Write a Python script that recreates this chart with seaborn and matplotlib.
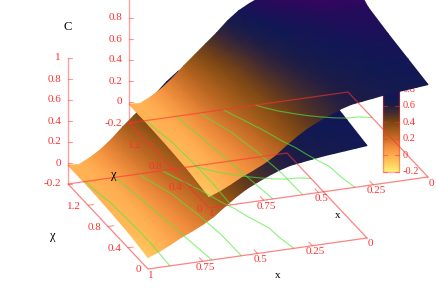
import numpy as np
import matplotlib
matplotlib.use('Agg')
import matplotlib.pyplot as plt
import seaborn as sns

# surface heights, one list per chi row
x_vals = [0, 0.05, 0.1, 0.15, 0.2, 0.25, 0.3, 0.35, 0.4, 0.45, 0.5, 0.55, 0.6, 0.65, 0.7, 0.75, 0.8, 0.85, 0.9, 0.95, 1]
chi_vals = [0, 0.4, 0.8, 1.2, 1.4, 1.6]
c_chi_00 = [0.68, 0.67, 0.66, 0.65, 0.64, 0.625, 0.61, 0.595, 0.565, 0.525, 0.48, 0.43, 0.365, 0.29, 0.21, 0.15, 0.10, 0.055, 0.0, -0.05, -0.09]
c_chi_04 = [0.72, 0.71, 0.70, 0.685, 0.67, 0.65, 0.63, 0.605, 0.57, 0.53, 0.48, 0.43, 0.37, 0.30, 0.235, 0.17, 0.11, 0.05, -0.01, -0.04, -0.05]
c_chi_08 = [0.76, 0.755, 0.745, 0.73, 0.715, 0.70, 0.68, 0.655, 0.62, 0.575, 0.52, 0.46, 0.39, 0.325, 0.26, 0.195, 0.13, 0.06, -0.01, -0.03, -0.03]
c_chi_12 = [0.81, 0.805, 0.805, 0.80, 0.785, 0.77, 0.75, 0.725, 0.695, 0.65, 0.59, 0.51, 0.43, 0.36, 0.29, 0.22, 0.15, 0.07, 0.0, -0.02, -0.02]
c_chi_14 = [0.88, 0.875, 0.87, 0.86, 0.85, 0.83, 0.81, 0.785, 0.75, 0.705, 0.65, 0.57, 0.48, 0.40, 0.32, 0.24, 0.16, 0.075, 0.01, -0.025, -0.02]
c_chi_16 = [0.98, 0.965, 0.95, 0.94, 0.925, 0.905, 0.885, 0.855, 0.82, 0.775, 0.72, 0.64, 0.54, 0.45, 0.36, 0.27, 0.17, 0.085, 0.02, -0.03, -0.02]

levels = [0, 0.2, 0.4, 0.6, 0.8]
z_ticks = [-0.2, 0, 0.2, 0.4, 0.6, 0.8, 1]
z_labels = ['-0.2', '0', '0.2', '0.4', '0.6', '0.8', '1']
x_ticks = [0, 0.25, 0.5, 0.75, 1]
x_labels = ['0', '0.25', '0.5', '0.75', '1']
chi_ticks = [0, 0.4, 0.8, 1.2]
chi_labels = ['0', '0.4', '0.8', '1.2']
cbar_ticks = [-0.2, 0, 0.2, 0.4, 0.6, 0.8]
cbar_labels = ['-0.2', '0', '0.2', '0.4', '0.6', '0.8']

palette_colors = ['#fff078', '#ffcd5f', '#ffaa50', '#f08c3c', '#c86e28', '#a05a19', '#784414',
                  '#462d2d', '#1e1c46', '#0f1955', '#230c5a', '#460064', '#6e006e']

sns.set_theme(style='white')
plt.rcParams['font.family'] = ['Liberation Serif', 'DejaVu Serif']
cmap = sns.blend_palette(palette_colors, as_cmap=True)
RED = '#ff3030'


def project(x, chi, z, off):
    t = np.asarray(chi) / 1.6
    px = 428 - 219 * np.asarray(x) - 80 * t + off
    py = 177 + 31 * np.asarray(x) - 85 * t - (np.asarray(z) + 0.2) * 105 - off
    return px, py


fig = plt.figure(figsize=(4.36, 3.05), dpi=100)
ax = fig.add_axes([0, 0, 1, 1])

X, CHI = np.meshgrid(x_vals, chi_vals)
C = np.array([c_chi_00, c_chi_04, c_chi_08, c_chi_12, c_chi_14, c_chi_16])

# colour box sits under the surfaces
grad = np.linspace(-0.2, 0.8, 120).reshape(-1, 1)
ax.imshow(grad, extent=[383, 399, 172, 88], origin='lower', cmap=cmap, vmin=-0.2, vmax=1.0,
          aspect='auto', zorder=1)
ax.plot([383, 399, 399, 383, 383], [172, 172, 88, 88, 172], color=RED, alpha=0.4, lw=1, zorder=1.1)
for v, lab in zip(cbar_ticks, cbar_labels):
    y = 172 - (v + 0.2) * 83
    ax.plot([383, 387], [y, y], color=RED, alpha=0.5, lw=0.8, zorder=1.1)
    ax.plot([395, 399], [y, y], color=RED, alpha=0.5, lw=0.8, zorder=1.1)
    ax.text(403, y, lab, color=RED, fontsize=7.5, va='center', ha='left', zorder=1.1)

for off, zs in [(-61, 2), (0, 3)]:
    px, py = project(X, CHI, C, off)
    ax.pcolormesh(px, py, C, cmap=cmap, vmin=-0.2, vmax=1.0, shading='gouraud', zorder=zs)

for off in [-61, 0]:
    bx, by = project(X, CHI, np.full(X.shape, -0.2), off)
    ax.contour(bx, by, C, levels=levels, colors='#50e83c', linewidths=0.8, alpha=0.65, zorder=5)

    # base frame
    cx, cy = project([0, 1, 1, 0, 0], [0, 0, 1.6, 1.6, 0], [-0.2] * 5, off)
    ax.plot(cx, cy, color=RED, alpha=0.6, lw=0.9, zorder=6)

    # z axis at the back left corner
    zx, zy = project([1, 1], [1.6, 1.6], [-0.2, 1], off)
    ax.plot(zx, zy, color=RED, alpha=0.45, lw=1, zorder=6)
    for v, lab in zip(z_ticks, z_labels):
        tx, ty = project(1, 1.6, v, off)
        ax.plot([tx, tx + 4], [ty, ty], color=RED, alpha=0.5, lw=0.8, zorder=6)
        ax.text(tx - 7, ty, lab, color=RED, fontsize=8, ha='right', va='center', zorder=7)

    for v, lab in zip(x_ticks, x_labels):
        tx, ty = project(v, 0, -0.2, off)
        ex, ey = project(v, 0.07, -0.2, off)
        if 0 < v < 1:
            ax.plot([tx, ex], [ty, ey], color=RED, alpha=0.6, lw=0.7, zorder=6)
        ax.text(tx + 3, ty + 6, lab, color=RED, fontsize=8, ha='center', va='center', zorder=7)

    for v, lab in zip(chi_ticks, chi_labels):
        tx, ty = project(1, v, -0.2, off)
        ex, ey = project(0.975, v, -0.2, off)
        if v > 0:
            ax.plot([tx, ex], [ty, ey], color=RED, alpha=0.6, lw=0.7, zorder=6)
        ax.text(tx - 7, ty + 1, lab, color=RED, fontsize=8, ha='right', va='center', zorder=7)

ax.text(68, 27, 'C', fontsize=9, color='black', ha='center', va='center', zorder=8)
ax.text(53, 236, 'χ', fontsize=9, color='black', ha='center', va='center', zorder=8)
ax.text(114, 175, 'χ', fontsize=9, color='black', ha='center', va='center', zorder=8)
ax.text(278, 276, 'x', fontsize=8, color='black', ha='center', va='center', zorder=8)
ax.text(338, 215, 'x', fontsize=8, color='black', ha='center', va='center', zorder=8)

ax.set_xlim(0, 436)
ax.set_ylim(305, 0)
ax.axis('off')
fig.savefig('out.png', dpi=100)
